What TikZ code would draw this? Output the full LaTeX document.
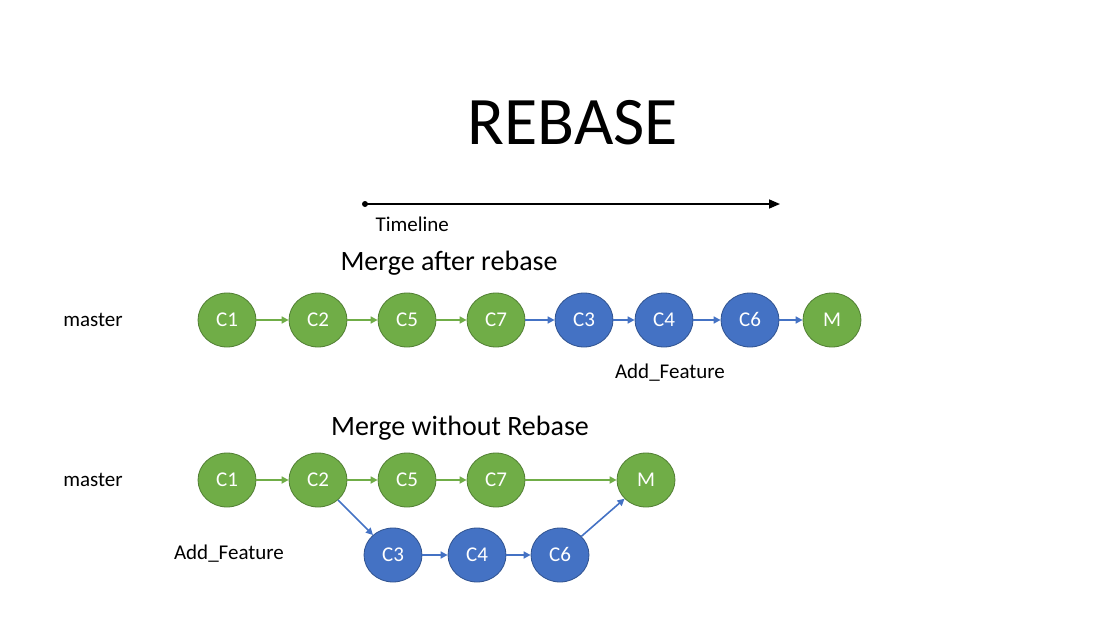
\documentclass[tikz,border=0pt]{standalone}
\usepackage{fontspec}
\setmainfont{Carlito}
\usetikzlibrary{shapes.geometric,arrows.meta}
\definecolor{gfill}{HTML}{70AD47}
\definecolor{gline}{HTML}{507E32}
\definecolor{bfill}{HTML}{4472C4}
\definecolor{bline}{HTML}{2F528F}
\tikzset{
  commit/.style={ellipse,minimum width=58pt,minimum height=54pt,inner sep=0pt,line width=0.8pt,
     text=white,font=\fontsize{21}{24}\selectfont,text height=13.5pt,text depth=0pt},
  gc/.style={commit,fill=gfill,draw=gline},
  bc/.style={commit,fill=bfill,draw=bline},
  garr/.style={draw=gfill,line width=1.6pt,-{Triangle[length=7pt,width=7pt]}},
  barr/.style={draw=bfill,line width=1.6pt,-{Triangle[length=7pt,width=7pt]}},
  lbl/.style={font=\fontsize{21}{24}\selectfont,text=black},
  ttl/.style={font=\fontsize{28}{32}\selectfont,text=black}
}
\begin{document}
\begin{tikzpicture}[x=1pt,y=-1pt]
\useasboundingbox (0,0) rectangle (1120,627);
\node[font=\fontsize{68}{72}\selectfont] (title) at (573,123) {REBASE};
\coordinate (t0) at (365,204);
\coordinate (t1) at (780,204);
\fill (t0) circle (3pt);
\draw[line width=1.6pt,-{Triangle[length=11pt,width=9pt]}] (t0) -- (t1);
\node[lbl,anchor=west] (tl) at (372,224) {Timeline};
% row 1
\node[ttl] (h1) at (449,263) {Merge after rebase};
\node[lbl] (m1) at (93,320) {master};
\node[gc] (a1) at (227,320) {C1};
\node[gc] (a2) at (318,320) {C2};
\node[gc] (a5) at (407,320) {C5};
\node[gc] (a7) at (496,320) {C7};
\node[bc] (a3) at (584,320) {C3};
\node[bc] (a4) at (664,320) {C4};
\node[bc] (a6) at (750,320) {C6};
\node[gc] (am) at (832,320) {M};
\node[lbl] (f1) at (670,373) {Add\_Feature};
\draw[garr] (a1) -- (a2);
\draw[garr] (a2) -- (a5);
\draw[garr] (a5) -- (a7);
\draw[barr] (a7) -- (a3);
\draw[barr] (a3) -- (a4);
\draw[barr] (a4) -- (a6);
\draw[barr] (a6) -- (am);
% row 2
\node[ttl] (h2) at (460,428) {Merge without Rebase};
\node[lbl] (m2) at (93,480) {master};
\node[gc] (b1) at (227,480) {C1};
\node[gc] (b2) at (318,480) {C2};
\node[gc] (b5) at (407,480) {C5};
\node[gc] (b7) at (496,480) {C7};
\node[gc] (bm) at (646,480) {M};
\node[bc] (b3) at (393,555) {C3};
\node[bc] (b4) at (477,555) {C4};
\node[bc] (b6) at (560,555) {C6};
\node[lbl] (f2) at (229,554) {Add\_Feature};
\draw[garr] (b1) -- (b2);
\draw[garr] (b2) -- (b5);
\draw[garr] (b5) -- (b7);
\draw[garr] (b7) -- (bm);
\draw[barr] (b2) -- (b3);
\draw[barr] (b3) -- (b4);
\draw[barr] (b4) -- (b6);
\draw[barr] (b6) -- (bm);
\end{tikzpicture}
\end{document}
